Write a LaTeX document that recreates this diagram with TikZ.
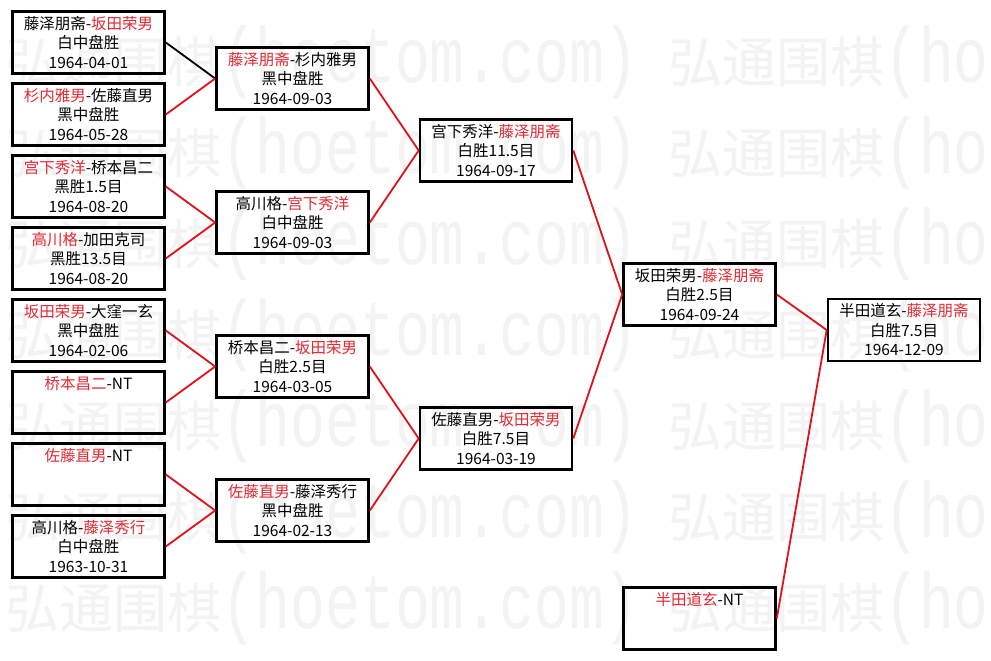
\documentclass[tikz,border=0pt]{standalone}
\usepackage{fontspec}
\setmainfont{Noto Sans CJK SC}
\newfontfamily\wmmono{Liberation Mono}
\definecolor{wred}{RGB}{226,42,52}
\definecolor{lred}{RGB}{222,18,26}
\definecolor{wmark}{RGB}{243,243,243}
\newcommand{\rd}[1]{\textcolor{wred}{#1}}
\begin{document}
\begin{tikzpicture}[x=1pt,y=-1pt,
  game/.style={draw=black, line width=2.6pt, minimum width=152pt, minimum height=62pt,
    inner sep=0pt, align=center, font=\fontsize{15.5}{19.5}\selectfont},
  win/.style={draw=lred, line width=1.8pt},
  lose/.style={draw=black, line width=1.8pt},
  wm/.style={text=wmark, anchor=base west, inner sep=0pt, font=\fontsize{54}{54}\selectfont}]
\useasboundingbox (0,0) rectangle (991,661);
\fill[white] (0,0) rectangle (991,661);
% watermark
\foreach \k in {0,...,6}{
  \node[wm] (wma\k) at (5,{82+91*\k}) {弘通围棋\scalebox{1}[1.35]{\wmmono\fontsize{58}{58}\selectfont(hoetom.com)}};
  \node[wm] (wmb\k) at (668,{82+91*\k}) {弘通围棋\scalebox{1}[1.35]{\wmmono\fontsize{58}{58}\selectfont(hoetom.com)}};
}
% round 1
\node[game] (a1) at (88.5,42.5) {藤泽朋斋-\rd{坂田荣男}\\白中盘胜\\1964-04-01};
\node[game] (a2) at (88.5,114.5) {\rd{杉内雅男}-佐藤直男\\黑中盘胜\\1964-05-28};
\node[game] (a3) at (88.5,186.5) {\rd{宫下秀洋}-桥本昌二\\黑胜1.5目\\1964-08-20};
\node[game] (a4) at (88.5,258.5) {\rd{高川格}-加田克司\\黑胜13.5目\\1964-08-20};
\node[game] (a5) at (88.5,330.5) {\rd{坂田荣男}-大窪一玄\\黑中盘胜\\1964-02-06};
\node[game] (a6) at (88.5,402.5) {\rd{桥本昌二}-NT\\\mbox{}\\\mbox{}};
\node[game] (a7) at (88.5,474.5) {\rd{佐藤直男}-NT\\\mbox{}\\\mbox{}};
\node[game] (a8) at (88.5,546.5) {高川格-\rd{藤泽秀行}\\白中盘胜\\1963-10-31};
% round 2
\node[game] (b1) at (292.5,78.5) {\rd{藤泽朋斋}-杉内雅男\\黑中盘胜\\1964-09-03};
\node[game] (b2) at (292.5,222.5) {高川格-\rd{宫下秀洋}\\白中盘胜\\1964-09-03};
\node[game] (b3) at (292.5,366.5) {桥本昌二-\rd{坂田荣男}\\白胜2.5目\\1964-03-05};
\node[game] (b4) at (292.5,510.5) {\rd{佐藤直男}-藤泽秀行\\黑中盘胜\\1964-02-13};
% round 3
\node[game] (c1) at (496,150.5) {宫下秀洋-\rd{藤泽朋斋}\\白胜11.5目\\1964-09-17};
\node[game] (c2) at (496,438.5) {佐藤直男-\rd{坂田荣男}\\白胜7.5目\\1964-03-19};
% round 4
\node[game] (d1) at (699.5,294.5) {坂田荣男-\rd{藤泽朋斋}\\白胜2.5目\\1964-09-24};
\node[game] (h1) at (699.5,618.5) {\rd{半田道玄}-NT\\\mbox{}\\\mbox{}};
% final
\node[game] (e1) at (904,330) {半田道玄-\rd{藤泽朋斋}\\白胜7.5目\\1964-12-09};
% connectors
\draw[lose] (a1.east) -- (b1.west);
\draw[win] (a2.east) -- (b1.west);
\draw[win] (a3.east) -- (b2.west);
\draw[win] (a4.east) -- (b2.west);
\draw[win] (a5.east) -- (b3.west);
\draw[win] (a6.east) -- (b3.west);
\draw[win] (a7.east) -- (b4.west);
\draw[win] (a8.east) -- (b4.west);
\draw[win] (b1.east) -- (c1.west);
\draw[win] (b2.east) -- (c1.west);
\draw[win] (b3.east) -- (c2.west);
\draw[win] (b4.east) -- (c2.west);
\draw[win] (c1.east) -- (d1.west);
\draw[win] (c2.east) -- (d1.west);
\draw[win] (d1.east) -- (e1.west);
\draw[win] (h1.east) -- (e1.west);
\end{tikzpicture}
\end{document}
